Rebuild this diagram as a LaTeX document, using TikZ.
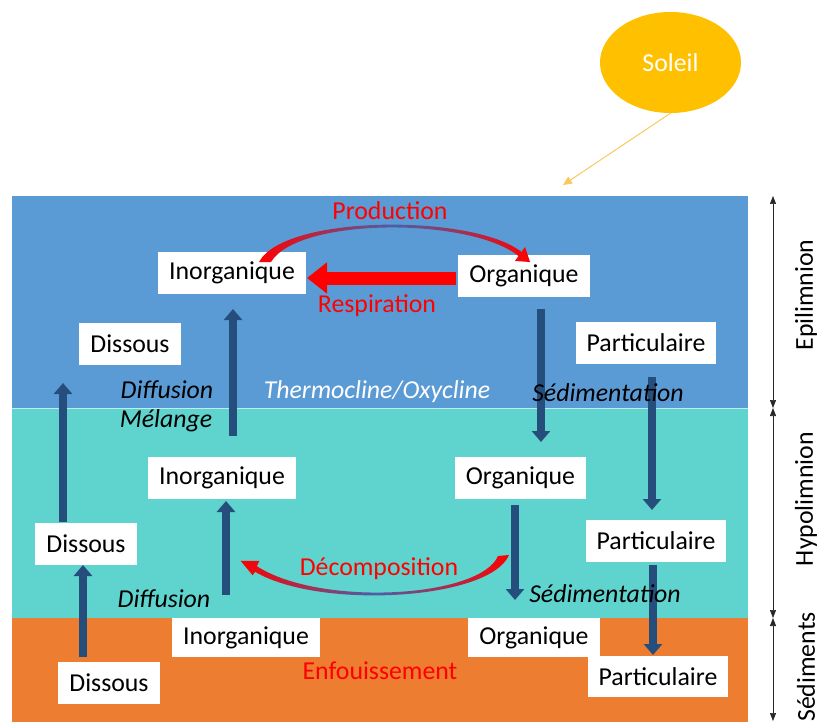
\documentclass[tikz,border=0pt]{standalone}
\usepackage{fontspec}
\setmainfont{Carlito}
\usetikzlibrary{arrows.meta,shapes.geometric}
\definecolor{epiblue}{HTML}{5B9BD5}
\definecolor{hypoteal}{HTML}{5FD3CD}
\definecolor{sedorange}{HTML}{ED7D31}
\definecolor{sunyellow}{HTML}{FFC000}
\definecolor{sunline}{HTML}{F9C95A}
\definecolor{fluxblue}{HTML}{254E7C}
\definecolor{arcblue}{HTML}{4A5FA8}
\begin{document}
\begin{tikzpicture}[x=1pt,y=-1pt,
  every node/.style={font=\fontsize{25.8}{30}\selectfont},
  pool/.style={fill=white, inner xsep=11pt, inner ysep=0pt, minimum height=42pt},
  procname/.style={text=red},
  fluxname/.style={font=\fontsize{25.8}{30}\selectfont\itshape},
  flux/.style={draw=fluxblue, line width=8pt, -{Triangle[width=18pt,length=11pt]}},
  layername/.style={rotate=90},
  depthspan/.style={draw=black!85, line width=0.7pt,
    {Triangle[width=6pt,length=8pt]}-{Triangle[width=6pt,length=8pt]}},
]
\useasboundingbox (0,0) rectangle (822,722);

% water column and sediment layers
\fill[epiblue] (12,196) rectangle (748,408);
\fill[hypoteal] (12,408) rectangle (748,618);
\fill[sedorange] (12,618) rectangle (748,722);
\draw[white!60!hypoteal, line width=1pt] (12,408) -- (748,408);

% sun and incoming light
\node[ellipse, fill=sunyellow, minimum width=141pt, minimum height=101pt,
      inner sep=0pt, text=white] (sun) at (670.5,62.5) {Soleil};
\coordinate (ray) at (563,185);
\draw[sunline, line width=1pt, -{Triangle[width=8pt,length=9pt]}] (sun.south) -- (ray);

% pools
\node[pool] (inoE) at (232,273) {Inorganique};
\node[pool] (orgE) at (524,276) {Organique};
\node[pool] (disE) at (130,344) {Dissous};
\node[pool] (parE) at (646,342.5) {Particulaire};
\node[pool] (inoH) at (222,477.5) {Inorganique};
\node[pool] (orgH) at (520.5,477.5) {Organique};
\node[pool] (disH) at (86,544) {Dissous};
\node[pool] (parH) at (656,541) {Particulaire};
\node[pool, minimum height=39pt] (inoS) at (246,637.5) {Inorganique};
\node[pool, minimum height=39pt] (orgS) at (534,637.5) {Organique};
\node[pool, minimum height=41pt] (parS) at (658,676.5) {Particulaire};
\node[pool] (disS) at (109,683) {Dissous};

% transport fluxes
\coordinate (f1a) at (233,436); \coordinate (f1b) at (233,309);
\coordinate (f2a) at (63,522);  \coordinate (f2b) at (63,383);
\coordinate (f3a) at (541,309); \coordinate (f3b) at (541,442);
\coordinate (f4a) at (652,377); \coordinate (f4b) at (652,510);
\coordinate (f5a) at (226,595); \coordinate (f5b) at (226,501);
\coordinate (f6a) at (515,505); \coordinate (f6b) at (515,600);
\coordinate (f7a) at (653,565); \coordinate (f7b) at (653,655);
\coordinate (f8a) at (83,657);  \coordinate (f8b) at (83,565);
\draw[flux] (f1a) -- (f1b);
\draw[flux] (f2a) -- (f2b);
\draw[flux] (f3a) -- (f3b);
\draw[flux] (f4a) -- (f4b);
\draw[flux] (f5a) -- (f5b);
\draw[flux] (f6a) -- (f6b);
\draw[flux] (f7a) -- (f7b);
\draw[flux] (f8a) -- (f8b);

% respiration
\coordinate (resp0) at (456,278); \coordinate (resp1) at (307,278);
\draw[red, line width=13pt, -{Triangle[width=30pt,length=20pt]}] (resp0) -- (resp1);

% production arc
\shade[left color=red, right color=red, middle color=arcblue]
  (259,262) .. controls (285,214) and (474,214) .. (521.5,252)
  -- (525,247) -- (530,262) -- (515,261) -- (518.5,256)
  .. controls (470,217) and (298,217) .. (271,262) -- cycle;

% decomposition arc
\shade[left color=red, right color=red, middle color=arcblue]
  (509,555) .. controls (490,600) and (320,610) .. (255.1,571.8)
  -- (252.6,575.2) -- (240.6,560.8) -- (259.4,560.8) -- (256.9,566.2)
  .. controls (320,607) and (480,598) .. (498,556) -- cycle;

% process labels
\node[procname] (prod) at (390,211) {Production};
\node[procname] (resp) at (377,306) {Respiration};
\node[procname] (decomp) at (379,569) {Décomposition};
\node[procname] (enfouis) at (380,671) {Enfouissement};

% transport labels
\node[fluxname] (diffE) at (167,390) {Diffusion};
\node[fluxname] (melange) at (166,421) {Mélange};
\node[fluxname, text=white] (thermo) at (377,392) {Thermocline/Oxycline};
\node[fluxname] (sedE) at (608,393) {Sédimentation};
\node[fluxname] (diffH) at (164,599) {Diffusion};
\node[fluxname] (sedH) at (605,594) {Sédimentation};

% layer extents
\coordinate (z0) at (773,196); \coordinate (z1) at (773,408);
\coordinate (z2) at (773,618); \coordinate (z3) at (773,721);
\draw[depthspan] (z0) -- (z1);
\draw[depthspan] (z1) -- (z2);
\draw[depthspan] (z2) -- (z3);
\node[layername] (epi) at (806,295) {Epilimnion};
\node[layername] (hypo) at (806,499) {Hypolimnion};
\node[layername] (sedi) at (806,667) {Sédiments};
\end{tikzpicture}
\end{document}
